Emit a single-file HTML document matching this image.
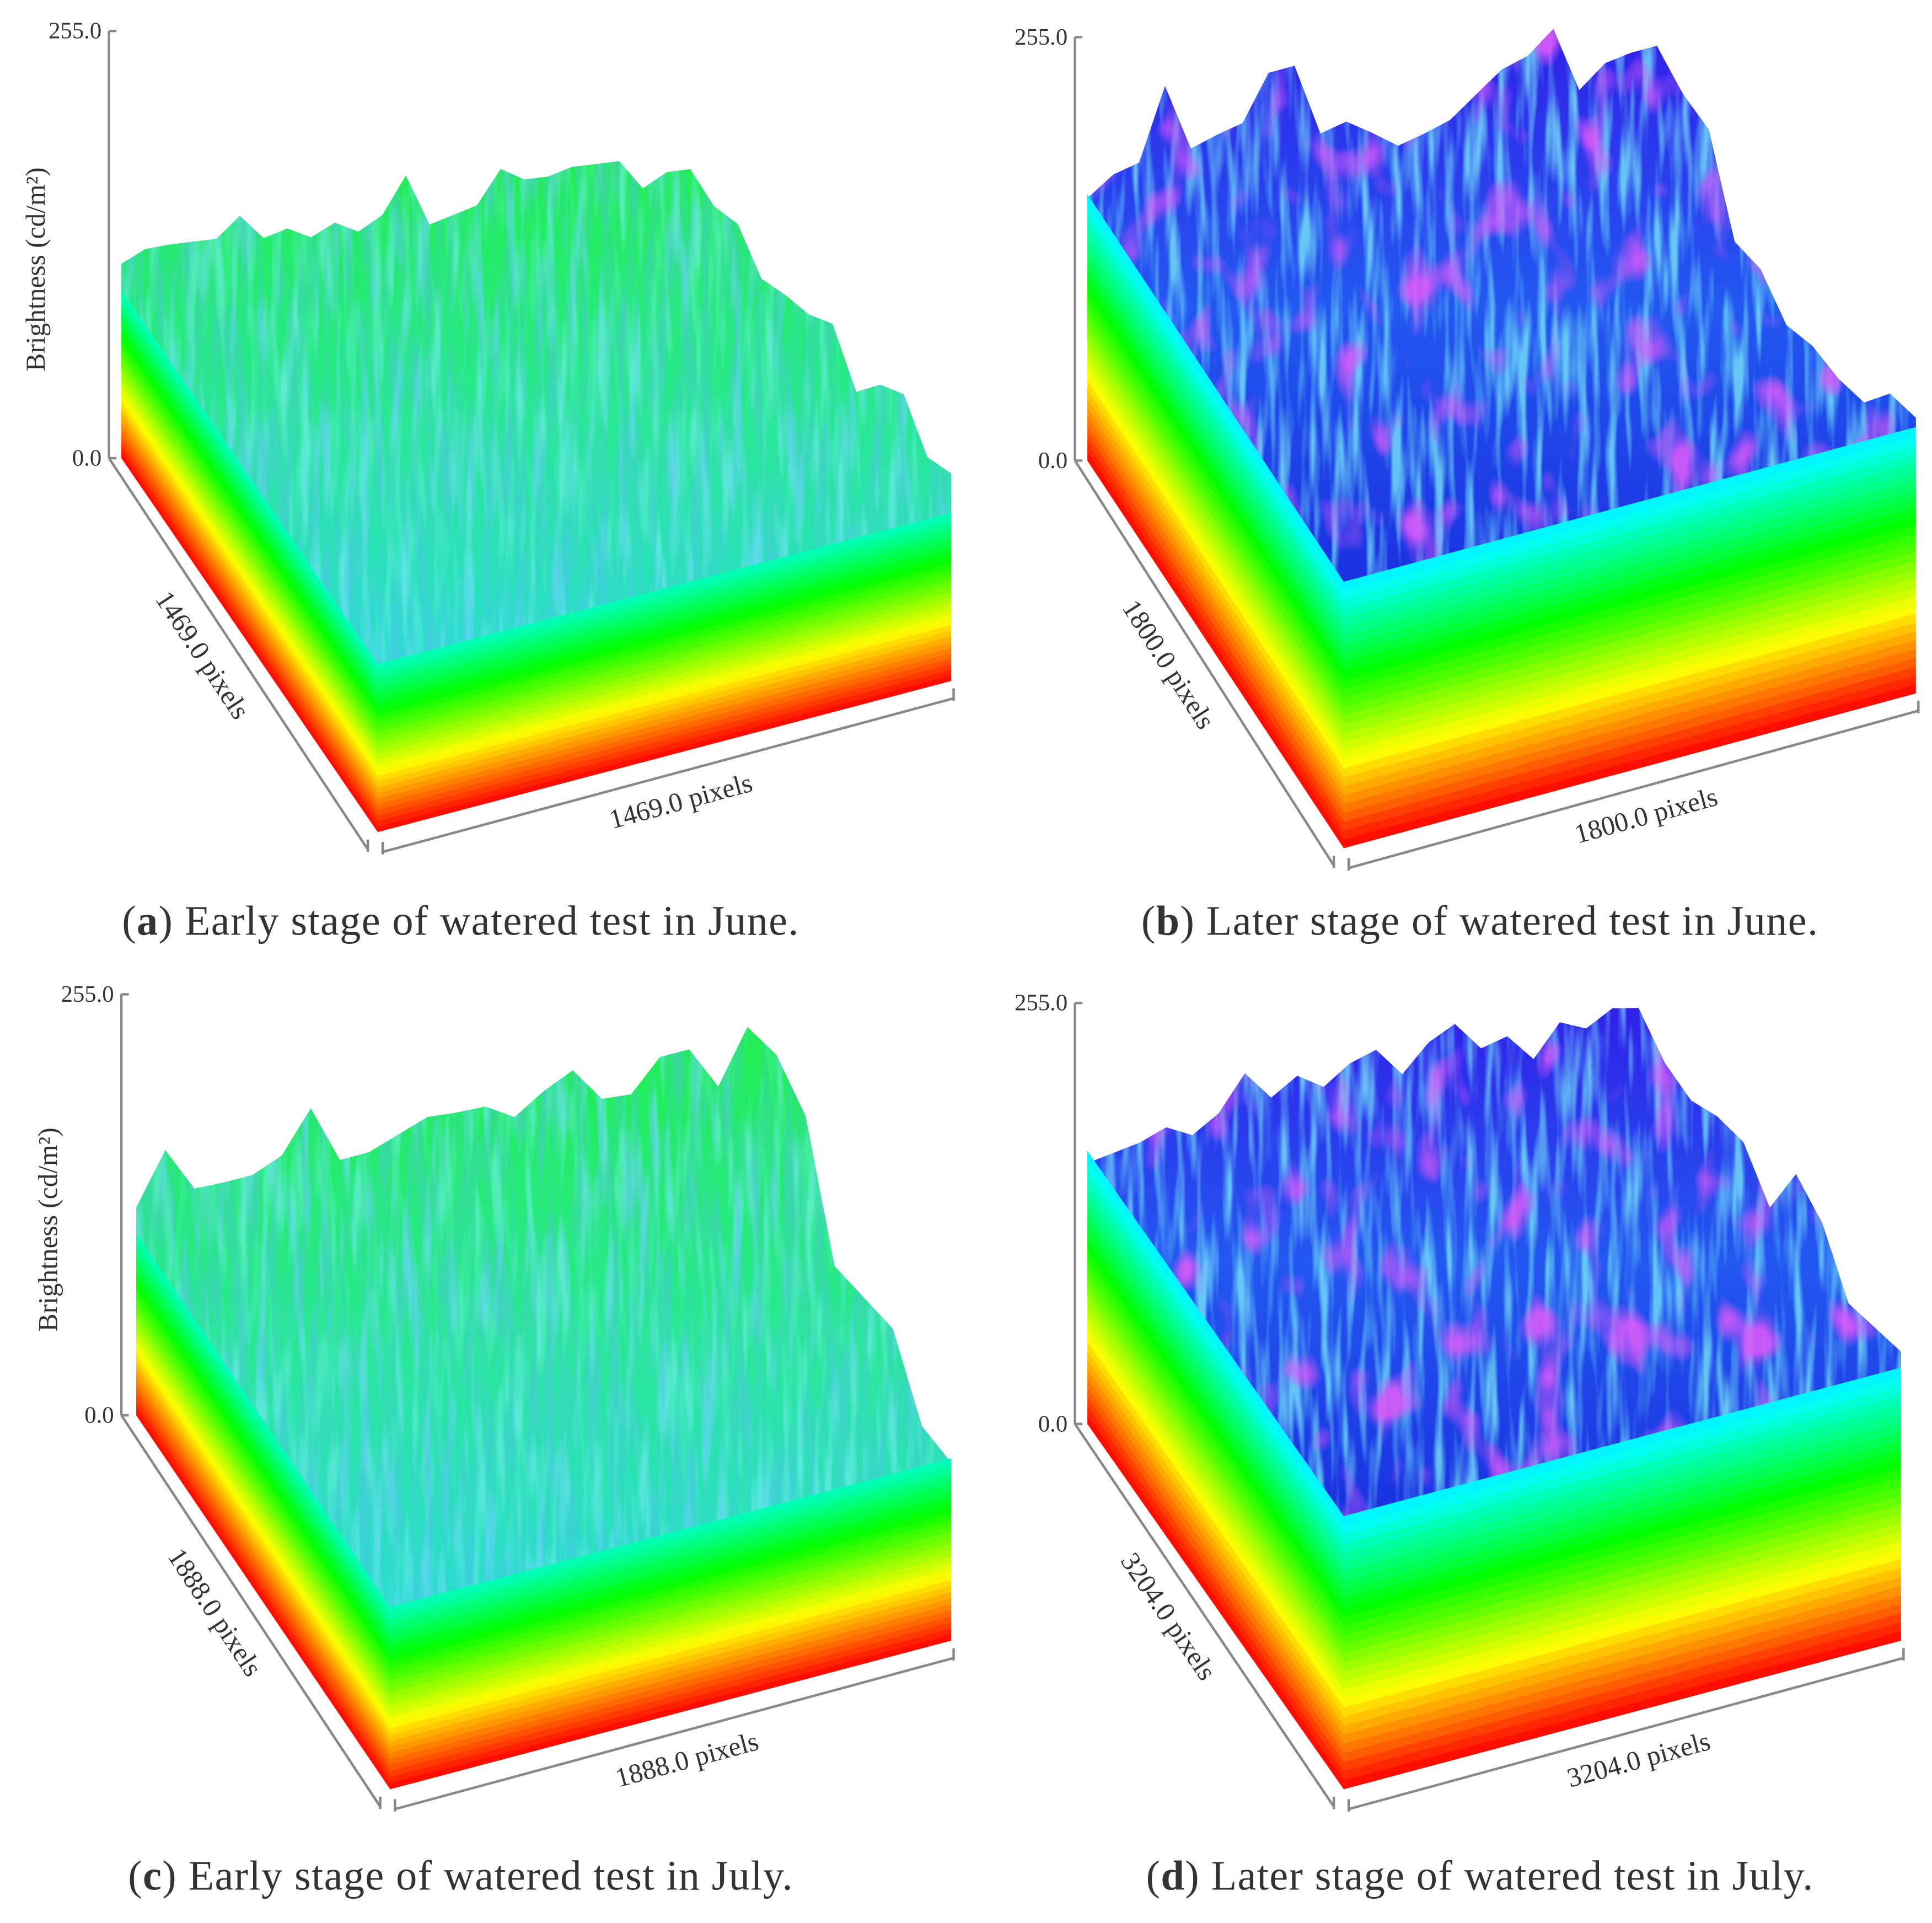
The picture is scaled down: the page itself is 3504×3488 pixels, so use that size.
<!DOCTYPE html>
<html><head><meta charset="utf-8"><style>
html,body{margin:0;padding:0;background:#fff;}
svg{display:block;}
text{font-family:"Liberation Serif",serif;fill:#333;}
</style></head><body>
<svg id="fig" width="3504" height="3488" viewBox="0 0 1560 1553" preserveAspectRatio="none" xmlns="http://www.w3.org/2000/svg">
<defs>
<linearGradient id="topGreen" x1="0" y1="0" x2="0" y2="1">
<stop offset="0" stop-color="#20ee50"/><stop offset="0.5" stop-color="#28e890"/><stop offset="1" stop-color="#2adcd0"/></linearGradient>
<linearGradient id="topBlue" x1="0" y1="0" x2="0" y2="1">
<stop offset="0" stop-color="#3020e8"/><stop offset="0.5" stop-color="#2258f0"/><stop offset="1" stop-color="#1a30e0"/></linearGradient>
<filter id="streakBlue" x="0" y="0" width="1" height="1">
<feTurbulence type="fractalNoise" baseFrequency="0.12 0.012" numOctaves="2" seed="4"/>
<feColorMatrix type="matrix" values="0 0 0 0 0.1  0 0 0 0 0.5  0 0 0 0 0.95  3.2 0 0 0 -1.3"/>
<feComposite operator="in" in2="SourceGraphic"/></filter>
<filter id="streakCyan" x="0" y="0" width="1" height="1">
<feTurbulence type="fractalNoise" baseFrequency="0.12 0.012" numOctaves="2" seed="7"/>
<feColorMatrix type="matrix" values="0 0 0 0 0.2  0 0 0 0 0.85  0 0 0 0 0.95  3.2 0 0 0 -1.4"/>
<feComposite operator="in" in2="SourceGraphic"/></filter>
<filter id="streakPurple" x="0" y="0" width="1" height="1">
<feTurbulence type="fractalNoise" baseFrequency="0.03 0.02" numOctaves="2" seed="11"/>
<feColorMatrix type="matrix" values="0 0 0 0 0.7  0 0 0 0 0.1  0 0 0 0 0.95  4 0 0 0 -2.2"/>
<feComposite operator="in" in2="SourceGraphic"/></filter>
</defs>
</svg>
<script>
// Skyline brightness values (cd/m2) sampled along the back ridge, per panel
const heightsA = [116,121,120,118,116,126,109,111,102,107,98,104,124,91,93,95,113,103,101,103,101,99,79,85,83,77,87,75,86,95,110,90,115,130,113,124];
const heightsB = [158,168,171,213,171,175,178,204,204,159,162,151,139,142,146,157,168,172,184,143,155,157,157,149,151,107,114,104,115,119,128,157,166];
const heightsC = [126,156,128,127,127,134,158,122,122,128,134,132,131,120,131,139,117,115,133,133,128,190,199,188,123,130,137,104,108];
const heightsD = [158,160,162,167,158,167,187,168,177,166,176,180,161,176,183,164,167,149,167,159,167,163,146,146,159,166,149,192,185,159,167,175];
const pixelLabels = ["1469.0 pixels","1800.0 pixels","1888.0 pixels","3204.0 pixels"];
const tickLabels = ["0.0","255.0"];
const captionLetters = ["a","b","c","d"];
const captionTexts = [" Early stage of watered test in June."," Later stage of watered test in June."," Early stage of watered test in July."," Later stage of watered test in July."];

const NS="http://www.w3.org/2000/svg";
const svg=document.getElementById('fig');
function mk(tag,attrs,parent){const e=document.createElementNS(NS,tag);for(const k in attrs)e.setAttribute(k,attrs[k]);(parent||svg).appendChild(e);return e;}

const panels=[
 {key:'a',h:heightsA,ax:88,y0:370,y255:25,L:[98,370],F:[305,672],R:[768,550],hs:100,top:'topGreen',streak:'streakCyan',purple:false,ylabel:true,cap:[372,755]},
 {key:'b',h:heightsB,ax:868,y0:372,y255:30,L:[878,372],F:[1085,685],R:[1547,560],hs:160,top:'topBlue',streak:'streakCyan',purple:true,ylabel:false,cap:[1195,755]},
 {key:'c',h:heightsC,ax:98,y0:1143,y255:803,L:[110,1143],F:[315,1445],R:[768,1325],hs:110,top:'topGreen',streak:'streakCyan',purple:false,ylabel:true,cap:[372,1526]},
 {key:'d',h:heightsD,ax:868,y0:1150,y255:810,L:[878,1150],F:[1085,1445],R:[1535,1325],hs:165,top:'topBlue',streak:'streakCyan',purple:true,ylabel:false,cap:[1195,1526]}
];

panels.forEach((p,pi)=>{
 const g=mk('g',{});
 
 
 const k=(p.y0-p.y255)/255;
 const B=[p.L[0]+(p.R[0]-p.F[0]), p.L[1]+(p.R[1]-p.F[1])];
 function base(x){
   if(x<=B[0]) return p.L[1]+(x-p.L[0])*(B[1]-p.L[1])/(B[0]-p.L[0]);
   return B[1]+(x-B[0])*(p.R[1]-B[1])/(p.R[0]-B[0]);
 }
 const yScale=v=>v*k;
 const n=p.h.length;
 const pts=[];
 p.h.forEach((v,i)=>{const x=p.L[0]+i/(n-1)*(p.R[0]-p.L[0]);pts.push([x,base(x)-yScale(v)]);});
 const hsY=yScale(p.hs);
 pts.push([p.R[0],p.R[1]-hsY]);
 pts.push([p.F[0],p.F[1]-hsY]);
 pts.push([p.L[0],p.L[1]-hsY]);
 const ptsStr=pts.map(q=>q[0].toFixed(1)+','+q[1].toFixed(1)).join(' ');
 const surf=mk('polygon',{points:ptsStr,fill:'url(#'+p.top+')'},g);
 
 
 const st=mk('polygon',{points:ptsStr,fill:'#fff',filter:'url(#'+p.streak+')',opacity:p.purple?0.75:0.6},g);
 
 
 if(p.purple){
  const pu=mk('polygon',{points:ptsStr,fill:'#fff',filter:'url(#streakPurple)',opacity:0.9},g);
  
  
 }else{
  const bl=mk('polygon',{points:ptsStr,fill:'#fff',filter:'url(#streakBlue)',opacity:0.4},g);
  
  
 }
 const bands=30, hueTop=p.purple?185:165;
 for(let b=0;b<bands;b++){
   const h1=hsY*b/bands, h2=hsY*(b+1)/bands+0.6;
   const hue=hueTop*(b+0.5)/bands;
   const col='hsl('+hue.toFixed(0)+',100%,50%)';
   const lf=mk('polygon',{points:`${p.L[0]},${p.L[1]-h1} ${p.F[0]},${p.F[1]-h1} ${p.F[0]},${p.F[1]-h2} ${p.L[0]},${p.L[1]-h2}`,fill:col},g);
   
   
   const ff=mk('polygon',{points:`${p.F[0]},${p.F[1]-h1} ${p.R[0]},${p.R[1]-h1} ${p.R[0]},${p.R[1]-h2} ${p.F[0]},${p.F[1]-h2}`,fill:col},g);
   
   
 }
 const ax=p.ax, axc='#888';
 const va=mk('line',{x1:ax,y1:p.y255,x2:ax,y2:p.y0,stroke:axc,'stroke-width':2},g);
 
 
 [[p.y255,1],[p.y0,0]].forEach(([y,i])=>{
   const t=mk('line',{x1:ax,y1:y,x2:ax+6,y2:y,stroke:axc,'stroke-width':2},g);
   
   
   const tl=mk('text',{x:ax-6,y:y+6,'text-anchor':'end','font-size':19,fill:'#555'},g);
   tl.textContent=tickLabels[i];
   
   
 });
 const off=10;
 const d1=[ax,p.y0], d2=[p.F[0]-8,p.F[1]+off+4];
 const da=mk('line',{x1:d1[0],y1:d1[1],x2:d2[0],y2:d2[1],stroke:axc,'stroke-width':2},g);
 
 
 const w1=[p.F[0]+4,p.F[1]+off+6], w2=[p.R[0]+2,p.R[1]+off+4];
 const wa=mk('line',{x1:w1[0],y1:w1[1],x2:w2[0],y2:w2[1],stroke:axc,'stroke-width':2},g);
 
 
 [d2,w1,w2].forEach(a=>{
   const t=mk('line',{x1:a[0],y1:a[1]-8,x2:a[0],y2:a[1]+2,stroke:axc,'stroke-width':2},g);
   
   
 });
 const angD=Math.atan2(d2[1]-d1[1],d2[0]-d1[0])*180/Math.PI;
 const mdx=(d1[0]+d2[0])/2-35, mdy=(d1[1]+d2[1])/2+5;
 const dl=mk('text',{x:mdx,y:mdy,'text-anchor':'middle','font-size':22,transform:`rotate(${angD.toFixed(1)} ${mdx} ${mdy})`},g);
 dl.textContent=pixelLabels[pi];
 
 
 const angW=Math.atan2(w2[1]-w1[1],w2[0]-w1[0])*180/Math.PI;
 const mwx=(w1[0]+w2[0])/2+12, mwy=(w1[1]+w2[1])/2+28;
 const wl=mk('text',{x:mwx,y:mwy,'text-anchor':'middle','font-size':22,transform:`rotate(${angW.toFixed(1)} ${mwx} ${mwy})`},g);
 wl.textContent=pixelLabels[pi];
 
 
 if(p.ylabel){
   const yx=ax-52, yy=(p.y255+p.y0)/2+20;
   const yl=mk('text',{x:yx,y:yy,'text-anchor':'middle','font-size':22,fill:'#222',transform:`rotate(-90 ${yx} ${yy})`},g);
   yl.textContent='Brightness (cd/m²)';
   
   
 }
 const cap=mk('text',{x:p.cap[0],y:p.cap[1],'text-anchor':'middle','font-size':34,'letter-spacing':'0.6',fill:'#111'},g);
 
 
 const s1=mk('tspan',{},cap);s1.textContent='(';
 const s2=mk('tspan',{'font-weight':'bold'},cap);s2.textContent=captionLetters[pi];
 const s3=mk('tspan',{},cap);s3.textContent=')'+captionTexts[pi];
});
</script>
</body></html>
